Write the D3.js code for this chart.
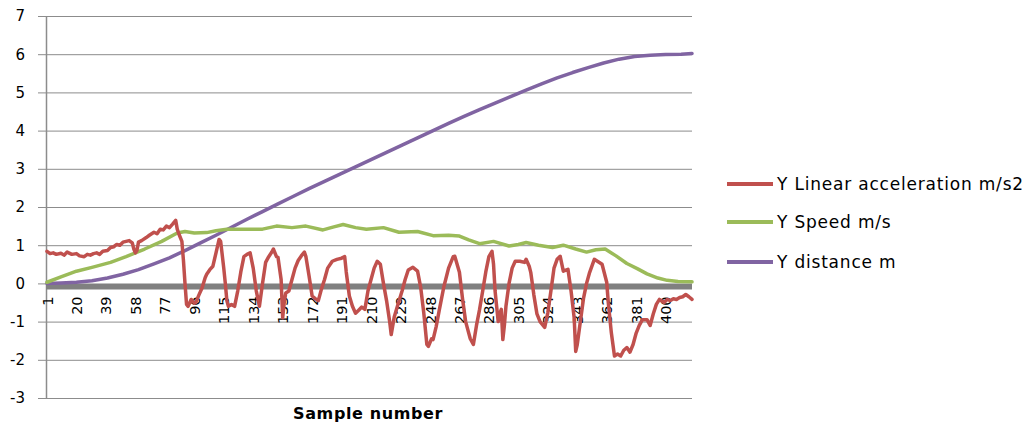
<!DOCTYPE html>
<html>
<head>
<meta charset="utf-8">
<script src="https://cdn.jsdelivr.net/npm/d3@7"></script>
<style>
  html, body { margin: 0; padding: 0; background: #fff; }
  svg { display: block; font-family: "DejaVu Sans", Verdana, sans-serif; }
</style>
</head>
<body>
<svg id="chart" width="1025" height="429"></svg>
<script>
// Y linear acceleration (m/s2), sampled at the listed sample numbers
const accelSample = [1,3,5,7,10,12,14,17,20,22,25,27,29,31,33,35,37,40,42,44,46,48,50,52,54,56,57,58,59,60,62,65,67,70,72,74,76,78,80,82,84,85,86,88,89,90,91,92,94,96,97,99,101,103,104,106,108,110,112,113,115,116,117,118,120,122,124,126,128,130,132,134,136,138,140,142,144,146,147,149,150,152,153,154,155,157,159,161,163,165,167,168,170,172,174,176,178,180,182,185,188,191,193,194,196,198,200,202,204,206,208,210,212,214,216,218,220,222,223,225,227,230,232,234,237,240,242,244,246,247,249,250,252,254,257,260,263,264,267,269,271,274,276,278,280,282,284,286,288,289,290,291,292,293,294,295,296,297,299,301,303,306,309,310,312,313,315,317,319,322,324,326,328,330,332,334,337,339,341,342,343,345,347,349,351,354,356,359,362,363,365,367,369,371,373,375,377,379,381,383,385,388,390,392,394,396,399,401,403,405,407,409,411,413,415,417];
const accelValue = [0.84,0.78,0.80,0.76,0.79,0.74,0.82,0.76,0.78,0.72,0.70,0.76,0.74,0.78,0.80,0.76,0.84,0.86,0.94,0.96,1.02,1.00,1.08,1.10,1.12,1.06,0.90,0.80,0.86,1.08,1.12,1.20,1.26,1.34,1.30,1.42,1.40,1.50,1.46,1.55,1.65,1.42,1.30,1.10,0.60,0.00,-0.55,-0.60,-0.42,-0.52,-0.50,-0.30,-0.12,0.15,0.24,0.36,0.45,0.80,1.15,1.10,0.40,0.00,-0.45,-0.60,-0.55,-0.60,-0.20,0.30,0.70,0.76,0.80,0.40,-0.20,-0.60,0.00,0.55,0.70,0.82,0.90,0.70,0.68,0.10,-0.90,-0.50,-0.25,-0.20,0.10,0.40,0.60,0.72,0.82,0.70,0.20,-0.33,-0.40,-0.45,-0.15,0.10,0.40,0.58,0.63,0.66,0.70,0.30,-0.33,-0.60,-0.78,-0.70,-0.62,-0.68,-0.20,0.10,0.40,0.58,0.50,0.00,-0.45,-1.00,-1.34,-0.87,-0.60,-0.20,0.10,0.35,0.42,0.32,-0.10,-0.77,-1.60,-1.65,-1.45,-1.47,-1.13,-0.70,-0.08,0.40,0.70,0.71,0.29,-0.40,-1.00,-1.45,-1.60,-1.10,-0.68,-0.20,0.30,0.70,0.84,0.50,-0.20,-0.60,-1.00,-0.80,-0.68,-1.47,-1.10,-0.60,0.00,0.40,0.58,0.58,0.55,0.63,0.45,0.29,-0.30,-0.80,-1.00,-1.15,-0.77,-0.20,0.40,0.63,0.71,0.32,0.37,-0.20,-0.90,-1.78,-1.60,-1.00,-0.40,0.00,0.29,0.63,0.58,0.50,0.03,-0.50,-1.30,-1.90,-1.85,-1.90,-1.75,-1.68,-1.80,-1.60,-1.30,-1.10,-0.95,-0.95,-1.10,-0.80,-0.55,-0.42,-0.50,-0.42,-0.45,-0.40,-0.42,-0.37,-0.35,-0.29,-0.35,-0.42];

// Y speed (m/s)
const speedSample = [1,10,20,30,42,52,64,75,85,90,96,104,110,117,129,140,149,159,168,179,186,192,200,207,218,228,240,250,260,267,273,280,289,299,305,310,318,327,334,342,349,355,361,368,375,382,388,395,401,408,417];
const speedValue = [0.03,0.17,0.32,0.42,0.55,0.70,0.90,1.10,1.32,1.36,1.32,1.33,1.38,1.42,1.42,1.42,1.50,1.46,1.50,1.40,1.48,1.54,1.46,1.42,1.46,1.34,1.36,1.25,1.26,1.24,1.14,1.04,1.10,0.98,1.02,1.07,1.00,0.94,1.00,0.90,0.82,0.88,0.90,0.72,0.52,0.38,0.25,0.14,0.08,0.05,0.04];

// Y distance (m)
const distSample = [1,10,20,30,40,50,60,70,80,90,100,110,120,130,140,150,160,170,180,190,200,210,220,230,240,250,260,270,280,290,300,310,320,330,340,350,360,370,380,390,400,410,417];
const distValue = [0,0.01,0.03,0.07,0.14,0.24,0.36,0.51,0.67,0.86,1.06,1.26,1.47,1.68,1.88,2.08,2.28,2.48,2.67,2.86,3.05,3.24,3.43,3.62,3.81,4.00,4.19,4.37,4.55,4.72,4.89,5.06,5.22,5.38,5.52,5.65,5.77,5.87,5.94,5.97,5.99,6.00,6.02];

const xTickLabels = [1,20,39,58,77,96,115,134,153,172,191,210,229,248,267,286,305,324,343,362,381,400];
const yTickLabels = [-3,-2,-1,0,1,2,3,4,5,6,7];

const seriesNames = ["Y Linear acceleration m/s2", "Y Speed m/s", "Y distance m"];
const seriesColors = ["#c0504d", "#9bbb59", "#8064a2"];
const xTitle = "Sample number";

const svg = d3.select("#chart");
const plot = { left: 46, right: 692, top: 16, bottom: 398 };

const x = d3.scaleLinear().domain([1, 417]).range([47, plot.right]);
const y = d3.scaleLinear().domain([-3, 7]).range([plot.bottom, plot.top]);

// horizontal gridlines
const grid = svg.append("g")
  .attr("transform", `translate(${plot.left},0)`)
  .call(d3.axisRight(y).tickValues(yTickLabels.filter(v => v !== 0))
    .tickSize(plot.right - plot.left).tickFormat(""));
grid.select(".domain").remove();
grid.selectAll(".tick line").attr("stroke", "#8c8c8c").attr("stroke-width", 1);

// value axis with outside tick marks and labels (plain hyphen for negatives)
const yAxis = svg.append("g")
  .attr("transform", `translate(${plot.left},0)`)
  .call(d3.axisLeft(y).tickValues(yTickLabels).tickSize(8).tickSizeOuter(0).tickPadding(13).tickFormat(d => String(d)));
yAxis.select(".domain").attr("stroke", "#8c8c8c").attr("stroke-width", 1.5);
yAxis.selectAll(".tick line").attr("stroke", "#8c8c8c");
yAxis.selectAll(".tick text").attr("font-size", 15).attr("fill", "#000")
  .attr("font-family", "'DejaVu Sans', Verdana, sans-serif");

// category axis along zero
const y0 = y(0);
svg.append("line")
  .attr("x1", plot.left).attr("x2", plot.right)
  .attr("y1", y0 + 3).attr("y2", y0 + 3)
  .attr("stroke", "#808080").attr("stroke-width", 6);

const xAxis = svg.append("g")
  .attr("transform", `translate(0,${y0})`)
  .call(d3.axisBottom(x).tickValues(xTickLabels).tickSize(0).tickFormat(d => String(d)));
xAxis.select(".domain").remove();
xAxis.selectAll(".tick text")
  .attr("transform", "rotate(-90)")
  .attr("x", -13).attr("y", 0).attr("dy", "0.35em")
  .attr("text-anchor", "end")
  .attr("font-size", 14.5).attr("fill", "#000")
  .attr("font-family", "'DejaVu Sans', Verdana, sans-serif");

// series lines
const line = d3.line().x(d => x(d[0])).y(d => y(d[1]));
const seriesData = [
  d3.zip(distSample, distValue),
  d3.zip(speedSample, speedValue),
  d3.zip(accelSample, accelValue)
];
const seriesColorOrder = [seriesColors[2], seriesColors[1], seriesColors[0]];
seriesData.forEach((pts, i) => {
  svg.append("path")
    .datum(pts)
    .attr("d", line)
    .attr("fill", "none")
    .attr("stroke", seriesColorOrder[i])
    .attr("stroke-width", 3.5)
    .attr("stroke-linejoin", "round")
    .attr("stroke-linecap", "round");
});

// axis title
svg.append("text")
  .attr("x", 368).attr("y", 419)
  .attr("text-anchor", "middle")
  .attr("font-size", 16).attr("font-weight", "bold").attr("fill", "#000")
  .attr("letter-spacing", 0.6)
  .text(xTitle);

// legend
const legendY = [184, 222, 262];
const legend = svg.append("g");
seriesNames.forEach((name, i) => {
  legend.append("line")
    .attr("x1", 727).attr("x2", 773)
    .attr("y1", legendY[i]).attr("y2", legendY[i])
    .attr("stroke", seriesColors[i]).attr("stroke-width", 4);
  legend.append("text")
    .attr("x", 777).attr("y", legendY[i]).attr("dy", "0.35em")
    .attr("font-size", 17).attr("letter-spacing", 0.8).attr("fill", "#000")
    .text(name);
});
</script>
</body>
</html>
